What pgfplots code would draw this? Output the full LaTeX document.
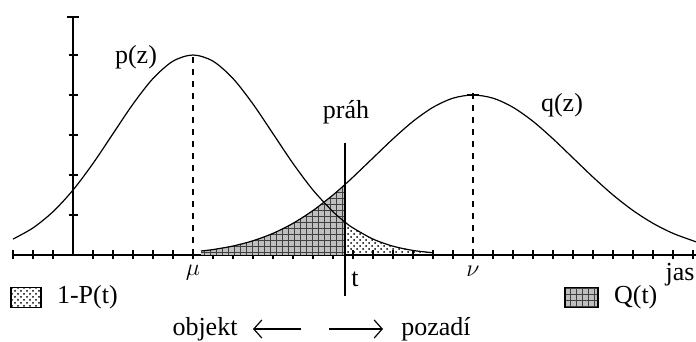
\documentclass[border=0pt]{standalone}
\usepackage{pgfplots}
\pgfplotsset{compat=1.18}
\usepackage{fontspec}
\setmainfont{Liberation Serif}
\usetikzlibrary{patterns,arrows.meta}

% two gaussians: p (object), q (background), threshold t
\pgfplotstableread{
x      y
-3     0.398
-2     0.677
-1     1.082
0      1.623
1      2.289
2      3.033
3      3.774
4      4.412
5      4.846
6      5.000
7      4.846
8      4.412
9      3.774
10     3.033
11     2.289
12     1.623
13     1.082
13.6   0.822
14     0.677
15     0.398
16     0.220
17     0.114
18     0.056
}\ptable

\pgfplotstableread{
x      y
6.4    0.100
7      0.136
8      0.224
9      0.356
10     0.541
11     0.792
12     1.112
13     1.501
13.6   1.763
14     1.947
15     2.426
16     2.904
17     3.341
18     3.692
19     3.921
20     4.000
21     3.921
22     3.692
23     3.341
24     2.904
25     2.426
26     1.947
27     1.501
28     1.112
29     0.792
30     0.541
31     0.356
31.15  0.330
}\qtable

\begin{document}
\begin{tikzpicture}
\begin{axis}[
  x=10pt, y=20pt,
  xmin=-3.05, xmax=31.15,
  ymin=0, ymax=5.95,
  axis lines=middle,
  axis line style={-, line width=1pt},
  xtick={-3,...,31}, ytick={1,...,5},
  xticklabels={}, yticklabels={},
  tick align=center,
  major tick length=4.5pt,
  tick style={line width=0.6pt, black},
  clip=false,
  font=\fontsize{13}{15}\selectfont,
]
% Q(t): area under q left of threshold
\addplot[fill=black!25, draw=none] coordinates {
  (6.4,0) (6.4,0.100) (7,0.136) (8,0.224) (9,0.356) (10,0.541) (11,0.792)
  (12,1.112) (13,1.501) (13.6,1.763) (13.6,0)} -- cycle;
\addplot[pattern=grid, pattern color=black!75, draw=none] coordinates {
  (6.4,0) (6.4,0.100) (7,0.136) (8,0.224) (9,0.356) (10,0.541) (11,0.792)
  (12,1.112) (13,1.501) (13.6,1.763) (13.6,0)} -- cycle;
% 1-P(t): area under p right of threshold
\addplot[pattern=crosshatch dots, pattern color=black, draw=none] coordinates {
  (13.6,0) (13.6,0.822) (14,0.677) (15,0.398) (16,0.220) (17,0.114)
  (18,0.056) (18,0)} -- cycle;

\addplot[smooth, line width=0.6pt] table {\ptable};
\addplot[smooth, line width=0.6pt] table {\qtable};

% means
\addplot[dashed, line width=0.6pt] coordinates {(6,0) (6,5.05)};
\addplot[dashed, line width=0.6pt] coordinates {(20,0) (20,4.15)};
\addplot[line width=0.6pt] coordinates {(19.7,4.0) (20.3,4.0)};
% top cap of y axis
\addplot[line width=1pt] coordinates {(-0.3,5.95) (0.3,5.95)};
% threshold
\addplot[line width=0.8pt] coordinates {(13.6,2.8) (13.6,-1.03)};

\node at (axis cs:3.15,4.95) {p(z)};
\node at (axis cs:24.45,3.75) {q(z)};
\node at (axis cs:13.65,3.58) {práh};
\node at (axis cs:6,-0.45) {$\mu$};
\node at (axis cs:20,-0.4) {$\nu$};
\node at (axis cs:14.1,-0.6) {t};
\node[anchor=east, inner xsep=0.5pt] at (axis cs:31.15,-0.5) {jas};

% legend boxes
\fill[pattern=crosshatch dots] (axis cs:-3.1,-0.82) rectangle (axis cs:-1.6,-1.32);
\draw[line width=0.6pt] (axis cs:-3.1,-0.82) rectangle (axis cs:-1.6,-1.32);
\node[anchor=west] at (axis cs:-1.15,-1.05) {1-P(t)};
\fill[black!25] (axis cs:24.6,-0.82) rectangle (axis cs:26.25,-1.32);
\fill[pattern=grid, pattern color=black!75] (axis cs:24.6,-0.82) rectangle (axis cs:26.25,-1.32);
\draw[line width=0.6pt] (axis cs:24.6,-0.82) rectangle (axis cs:26.25,-1.32);
\node[anchor=west] at (axis cs:26.7,-1.05) {Q(t)};

\node at (axis cs:6.6,-1.85) {objekt};
\node at (axis cs:18.15,-1.85) {pozadí};
\draw[-{Straight Barb[length=4pt,width=9pt]}, line width=0.6pt] (axis cs:11.4,-1.85) -- (axis cs:9.0,-1.85);
\draw[-{Straight Barb[length=4pt,width=9pt]}, line width=0.6pt] (axis cs:12.8,-1.85) -- (axis cs:15.5,-1.85);

\coordinate (bl) at (axis cs:-3.65,-2.175);
\coordinate (tr) at (axis cs:31.15,6.375);
\end{axis}
\pgfresetboundingbox
\path[use as bounding box] (bl) rectangle (tr);
\end{tikzpicture}
\end{document}
